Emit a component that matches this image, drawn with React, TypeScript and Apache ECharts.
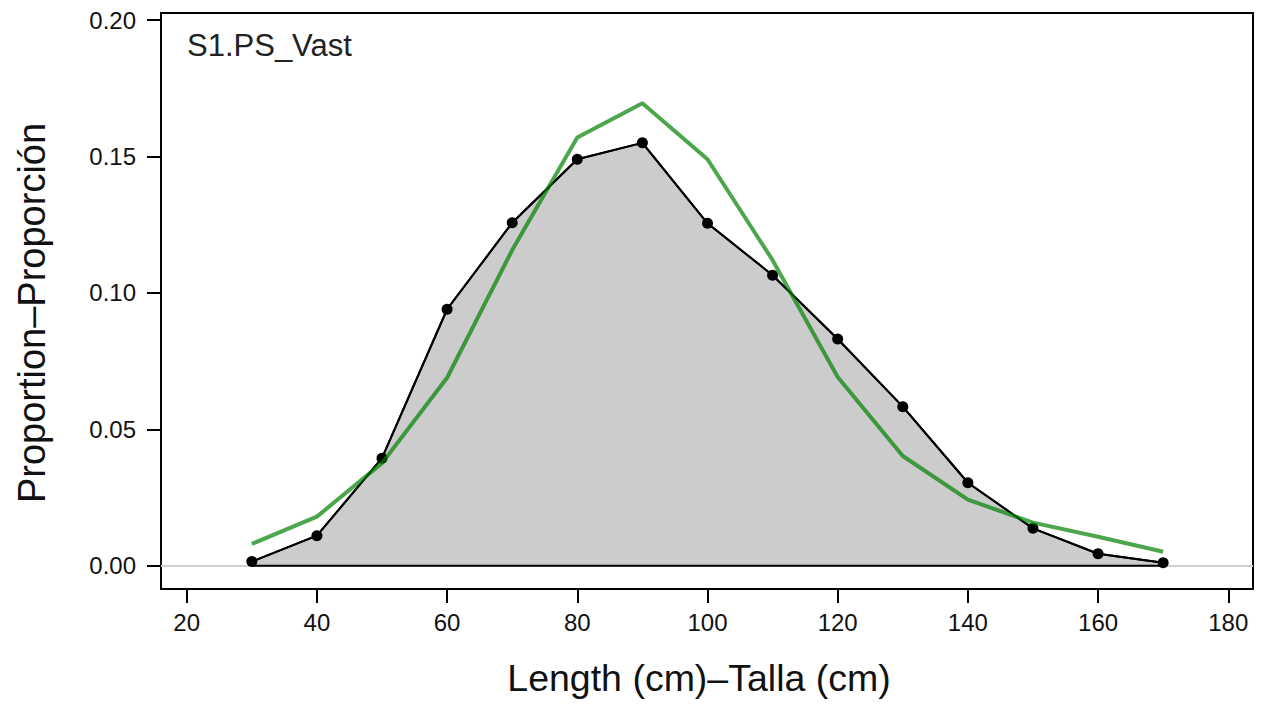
import React, { useEffect, useRef } from "react";
import * as echarts from "echarts";

const lengths = [30, 40, 50, 60, 70, 80, 90, 100, 110, 120, 130, 140, 150, 160, 170];
const observed = [0.0015, 0.011, 0.0394, 0.094, 0.1257, 0.149, 0.155, 0.1255, 0.1065, 0.0831, 0.0583, 0.0304, 0.0137, 0.0044, 0.0011];
const expected = [0.008, 0.018, 0.0376, 0.0689, 0.1157, 0.157, 0.1695, 0.149, 0.112, 0.0692, 0.0402, 0.0242, 0.0158, 0.0106, 0.0051];
const xTicks = [20, 40, 60, 80, 100, 120, 140, 160, 180];
const yTicks = [0, 0.05, 0.1, 0.15, 0.2];
const panelLabel = "S1.PS_Vast";
const xTitle = "Length (cm)\u2013Talla (cm)";
const yTitle = "Proportion\u2013Proporci\u00f3n";

const FONT = "'Liberation Sans', Arial, Helvetica, sans-serif";

export default function App() {
  const ref = useRef<HTMLDivElement>(null);
  useEffect(() => {
    if (!ref.current) return;
    const chart = echarts.init(ref.current, null, { renderer: "svg" });
    const obsData = lengths.map((x, i) => [x, observed[i]]);
    const expData = lengths.map((x, i) => [x, expected[i]]);
    const baseData = [
      [lengths[0], 0],
      [lengths[lengths.length - 1], 0],
    ];
    chart.setOption({
      animation: false,
      backgroundColor: "#ffffff",
      textStyle: { fontFamily: FONT },
      grid: {
        left: 161,
        top: 13,
        width: 1092,
        height: 576,
        show: true,
        borderColor: "#000",
        borderWidth: 2,
        backgroundColor: "transparent",
      },
      xAxis: {
        type: "value",
        min: 16.05,
        max: 183.8,
        axisLine: { show: false, onZero: false },
        splitLine: { show: false },
        axisTick: {
          show: true,
          customValues: xTicks,
          length: 14,
          inside: false,
          lineStyle: { color: "#000", width: 2 },
        },
        axisLabel: {
          customValues: xTicks,
          fontSize: 24,
          color: "#111",
          margin: 21,
          fontFamily: FONT,
        },
      },
      yAxis: {
        type: "value",
        min: -0.00854,
        max: 0.2026,
        axisLine: { show: false, onZero: false },
        splitLine: { show: false },
        axisTick: {
          show: true,
          customValues: yTicks,
          length: 14,
          inside: false,
          lineStyle: { color: "#000", width: 2 },
        },
        axisLabel: {
          customValues: yTicks,
          fontSize: 24,
          color: "#111",
          margin: 25,
          fontFamily: FONT,
          formatter: (v: number) => v.toFixed(2),
        },
      },
      series: [
        {
          type: "line",
          data: [],
          z: 1,
          markLine: {
            silent: true,
            symbol: "none",
            z: 1,
            label: { show: false },
            lineStyle: { color: "#cfcfcf", width: 2, type: "solid" },
            data: [{ yAxis: 0 }],
          },
        },
        {
          type: "line",
          data: obsData,
          z: 2,
          symbol: "none",
          lineStyle: { color: "#000", width: 2 },
          areaStyle: { color: "#cccccc", opacity: 1 },
        },
        {
          type: "line",
          data: baseData,
          z: 3,
          symbol: "none",
          lineStyle: { color: "#000", width: 2 },
        },
        {
          type: "line",
          data: obsData,
          z: 4,
          symbol: "circle",
          symbolSize: 11,
          itemStyle: { color: "#000" },
          lineStyle: { color: "#000", width: 2 },
        },
        {
          type: "line",
          data: expData,
          z: 5,
          symbol: "none",
          lineStyle: { color: "rgba(0,128,0,0.7)", width: 4 },
        },
      ],
      graphic: [
        {
          type: "text",
          left: 187,
          top: 30,
          style: { text: panelLabel, fontSize: 31, fill: "#222", fontFamily: FONT },
        },
        {
          type: "text",
          x: 699,
          y: 697,
          style: {
            text: xTitle,
            fontSize: 37.5,
            fill: "#111",
            fontFamily: FONT,
            textAlign: "center",
            textVerticalAlign: "bottom",
          },
        },
        {
          type: "text",
          x: 32,
          y: 313,
          rotation: Math.PI / 2,
          style: {
            text: yTitle,
            fontSize: 38,
            fill: "#111",
            fontFamily: FONT,
            textAlign: "center",
            textVerticalAlign: "middle",
          },
        },
      ],
    });
    return () => chart.dispose();
  }, []);
  return (
    <div
      ref={ref}
      style={{ position: "fixed", left: 0, top: 0, width: 1261, height: 705, background: "#fff" }}
    />
  );
}
